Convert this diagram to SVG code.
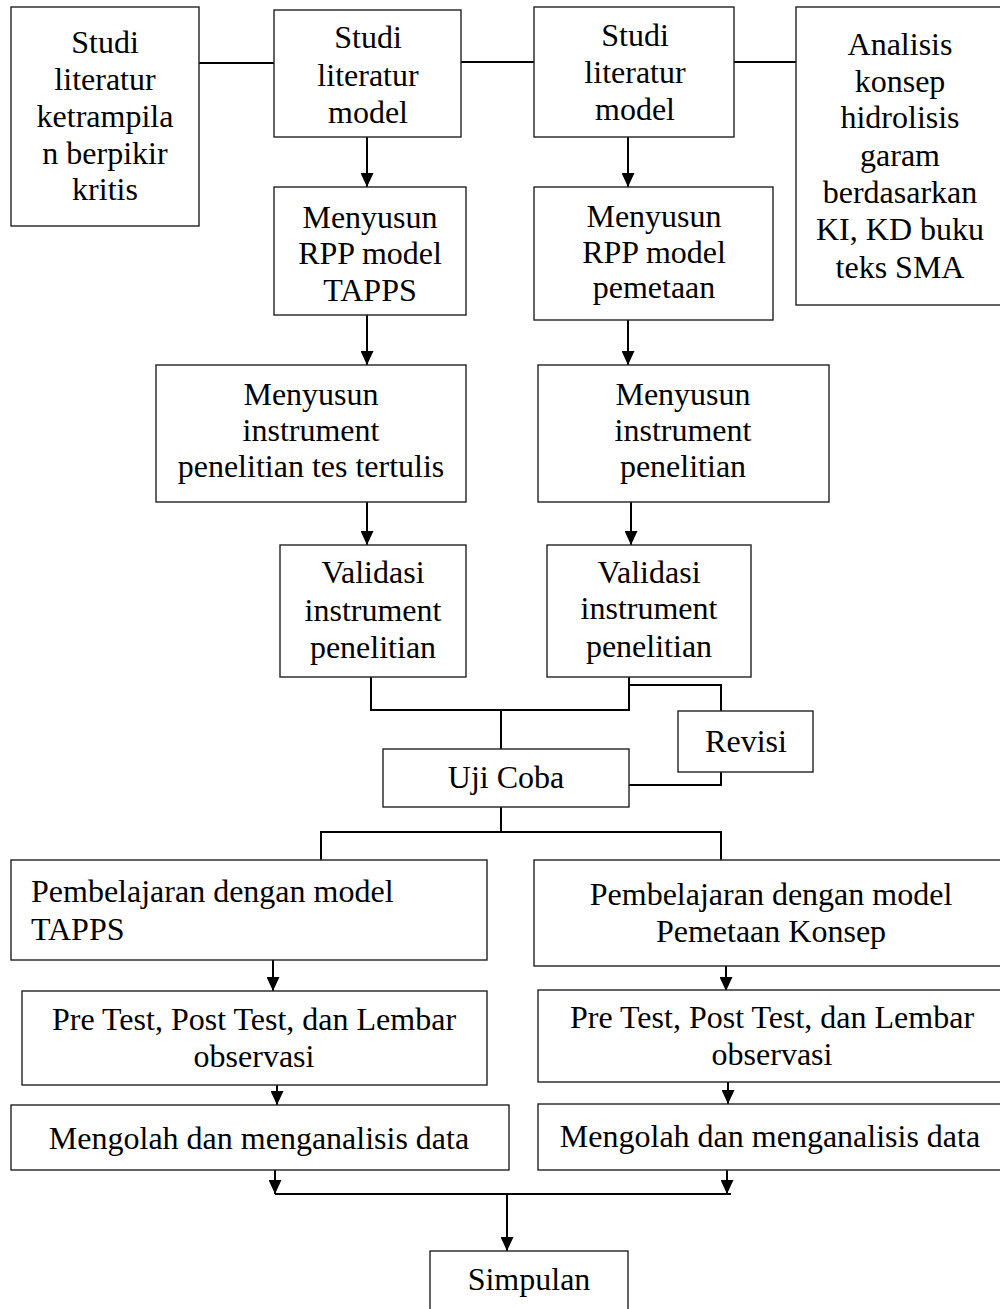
<svg xmlns="http://www.w3.org/2000/svg" width="1000" height="1309" viewBox="0 0 1000 1309">
<style>
.box{fill:#fff;stroke:#222;stroke-width:1.4}
.t{font-family:"Liberation Serif","Times New Roman",serif;font-size:32px;fill:#000;text-anchor:middle}
.tl{font-family:"Liberation Serif","Times New Roman",serif;font-size:32px;fill:#000;text-anchor:start}
.ln{fill:none;stroke:#000;stroke-width:2}
.ar{fill:none;stroke:#000;stroke-width:2;marker-end:url(#ah)}
</style>
<defs>
<marker id="ah" viewBox="0 0 14 13" refX="14" refY="6.5" markerWidth="14" markerHeight="13" orient="auto" markerUnits="userSpaceOnUse">
<path d="M0,0 L14,6.5 L0,13 z" fill="#000"/>
</marker>
</defs>
<rect width="1000" height="1309" fill="#fff"/>
<g id="connectors">
<line class="ln" x1="199" y1="63" x2="274" y2="63"/>
<line class="ln" x1="461" y1="62" x2="534" y2="62"/>
<line class="ln" x1="734" y1="62" x2="796" y2="62"/>
<line class="ar" x1="367" y1="137" x2="367" y2="187"/>
<line class="ar" x1="628" y1="137" x2="628" y2="187"/>
<line class="ar" x1="367" y1="315" x2="367" y2="365"/>
<line class="ar" x1="628" y1="320" x2="628" y2="365"/>
<line class="ar" x1="367" y1="502" x2="367" y2="545"/>
<line class="ar" x1="631" y1="502" x2="631" y2="545"/>
<polyline class="ln" points="371,677 371,710 629,710"/>
<line class="ln" x1="629" y1="677" x2="629" y2="711"/>
<line class="ln" x1="501" y1="710" x2="501" y2="749"/>
<polyline class="ln" points="629,685 721,685 721,711"/>
<polyline class="ln" points="721,772 721,785 629,785"/>
<line class="ln" x1="501" y1="807" x2="501" y2="832"/>
<polyline class="ln" points="321,860 321,832 721,832 721,860"/>
<line class="ar" x1="273" y1="960" x2="273" y2="991"/>
<line class="ar" x1="726" y1="966" x2="726" y2="991"/>
<line class="ar" x1="277" y1="1085" x2="277" y2="1105"/>
<line class="ar" x1="728" y1="1082" x2="728" y2="1104"/>
<line class="ar" x1="275" y1="1170" x2="275" y2="1194"/>
<line class="ar" x1="727" y1="1153" x2="727" y2="1194"/>
<line class="ln" x1="275" y1="1194" x2="731" y2="1194"/>
<line class="ar" x1="507" y1="1194" x2="507" y2="1251"/>
</g>
<g id="n1">
<rect class="box" x="11" y="7" width="188" height="219"/>
<text class="t" x="105" y="53">Studi</text>
<text class="t" x="105" y="90">literatur</text>
<text class="t" x="105" y="127">ketrampila</text>
<text class="t" x="105" y="164">n berpikir</text>
<text class="t" x="105" y="200">kritis</text>
</g>
<g id="n2">
<rect class="box" x="274" y="10" width="187" height="127"/>
<text class="t" x="368" y="48">Studi</text>
<text class="t" x="368" y="86">literatur</text>
<text class="t" x="368" y="123">model</text>
</g>
<g id="n3">
<rect class="box" x="534" y="7" width="200" height="130"/>
<text class="t" x="635" y="46">Studi</text>
<text class="t" x="635" y="83">literatur</text>
<text class="t" x="635" y="120">model</text>
</g>
<g id="n4">
<rect class="box" x="796" y="7" width="208" height="298"/>
<text class="t" x="900" y="55">Analisis</text>
<text class="t" x="900" y="92">konsep</text>
<text class="t" x="900" y="128">hidrolisis</text>
<text class="t" x="900" y="166">garam</text>
<text class="t" x="900" y="203">berdasarkan</text>
<text class="t" x="900" y="240">KI, KD buku</text>
<text class="t" x="900" y="278">teks SMA</text>
</g>
<g id="n5">
<rect class="box" x="274" y="187" width="192" height="128"/>
<text class="t" x="370" y="228">Menyusun</text>
<text class="t" x="370" y="264">RPP model</text>
<text class="t" x="370" y="301">TAPPS</text>
</g>
<g id="n6">
<rect class="box" x="534" y="187" width="239" height="133"/>
<text class="t" x="654" y="227">Menyusun</text>
<text class="t" x="654" y="263">RPP model</text>
<text class="t" x="654" y="298">pemetaan</text>
</g>
<g id="n7">
<rect class="box" x="156" y="365" width="310" height="137"/>
<text class="t" x="311" y="405">Menyusun</text>
<text class="t" x="311" y="441">instrument</text>
<text class="t" x="311" y="477">penelitian tes tertulis</text>
</g>
<g id="n8">
<rect class="box" x="538" y="365" width="291" height="137"/>
<text class="t" x="683" y="405">Menyusun</text>
<text class="t" x="683" y="441">instrument</text>
<text class="t" x="683" y="477">penelitian</text>
</g>
<g id="n9">
<rect class="box" x="280" y="545" width="186" height="132"/>
<text class="t" x="373" y="583">Validasi</text>
<text class="t" x="373" y="621">instrument</text>
<text class="t" x="373" y="658">penelitian</text>
</g>
<g id="n10">
<rect class="box" x="547" y="545" width="204" height="132"/>
<text class="t" x="649" y="583">Validasi</text>
<text class="t" x="649" y="619">instrument</text>
<text class="t" x="649" y="657">penelitian</text>
</g>
<g id="n11">
<rect class="box" x="678" y="711" width="135" height="61"/>
<text class="t" x="746" y="752">Revisi</text>
</g>
<g id="n12">
<rect class="box" x="383" y="749" width="246" height="58"/>
<text class="t" x="506" y="788">Uji Coba</text>
</g>
<g id="n13">
<rect class="box" x="11" y="860" width="476" height="100"/>
<text class="tl" x="31" y="902">Pembelajaran dengan model</text>
<text class="tl" x="31" y="940">TAPPS</text>
</g>
<g id="n14">
<rect class="box" x="534" y="860" width="474" height="106"/>
<text class="t" x="771" y="905">Pembelajaran dengan model</text>
<text class="t" x="771" y="942">Pemetaan Konsep</text>
</g>
<g id="n15">
<rect class="box" x="22" y="991" width="465" height="94"/>
<text class="t" x="254" y="1030">Pre Test, Post Test, dan Lembar</text>
<text class="t" x="254" y="1067">observasi</text>
</g>
<g id="n16">
<rect class="box" x="538" y="990" width="468" height="92"/>
<text class="t" x="772" y="1028">Pre Test, Post Test, dan Lembar</text>
<text class="t" x="772" y="1065">observasi</text>
</g>
<g id="n17">
<rect class="box" x="11" y="1105" width="498" height="65"/>
<text class="t" x="259" y="1149">Mengolah dan menganalisis data</text>
</g>
<g id="n18">
<rect class="box" x="538" y="1104" width="468" height="66"/>
<text class="t" x="770" y="1147">Mengolah dan menganalisis data</text>
</g>
<g id="n19">
<rect class="box" x="430" y="1251" width="198" height="70"/>
<text class="t" x="529" y="1290">Simpulan</text>
</g>
</svg>
